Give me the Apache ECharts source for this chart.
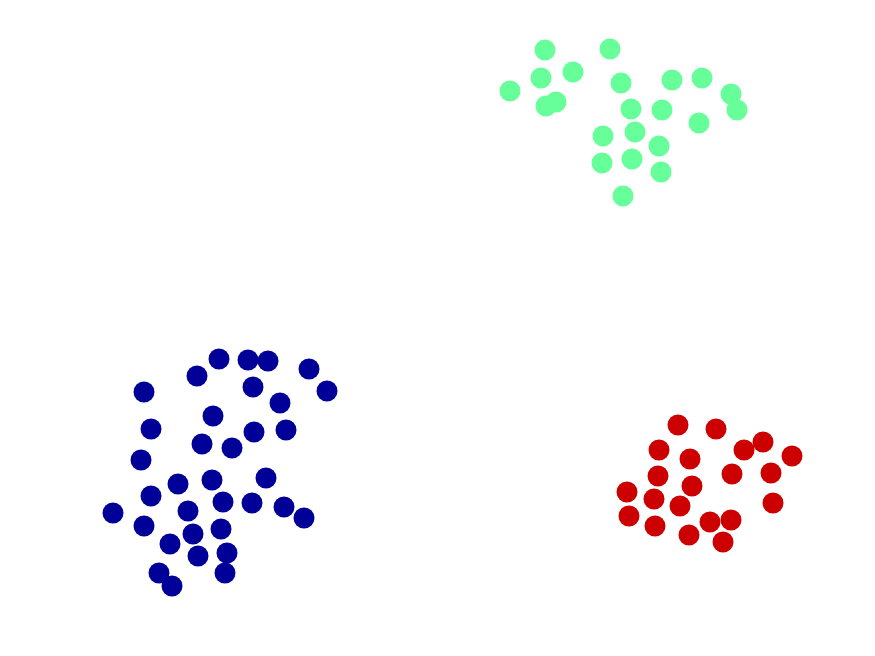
<!DOCTYPE html>
<html>
<head>
<meta charset="utf-8">
<script src="https://cdn.jsdelivr.net/npm/echarts@6/dist/echarts.min.js"></script>
<style>
    html, body { margin: 0; padding: 0; background: #fff; }
    #chart { width: 875px; height: 656px; }
</style>
</head>
<body>
<div id="chart"></div>
<script>
// 三个簇的点坐标 (x, y)，y 向下增大
const greenX = [545, 610, 541, 573, 510, 621, 672, 702, 731, 737, 546, 556, 631, 662, 699, 603, 635, 659, 602, 632, 661, 623];
const greenY = [50, 49, 78, 72, 91, 83, 80, 78, 94, 110, 106, 102, 109, 110, 123, 136, 132, 146, 163, 159, 172, 196];

const blueX = [219, 248, 268, 197, 309, 144, 253, 327, 280, 213, 151, 254, 286, 202, 232, 141,
    266, 178, 212, 151, 223, 252, 284, 113, 188, 304, 144, 193, 221, 170, 227, 198, 159, 225, 172];
const blueY = [359, 360, 361, 376, 369, 392, 387, 391, 403, 416, 429, 432, 430, 444, 448, 460,
    478, 484, 480, 496, 502, 503, 507, 513, 511, 518, 526, 534, 529, 544, 553, 556, 573, 573, 586];

const redX = [678, 716, 659, 744, 763, 690, 792, 658, 732, 771, 692, 627, 654, 680, 773, 629, 655, 710, 731, 689, 723];
const redY = [425, 429, 450, 450, 442, 459, 456, 476, 474, 473, 486, 492, 499, 506, 503, 516, 526, 522, 520, 535, 542];

function pairs(xs, ys) {
    return xs.map((x, i) => [x, ys[i]]);
}

const chart = echarts.init(document.getElementById('chart'));
chart.setOption({
    animation: false,
    grid: { left: 0, right: 0, top: 0, bottom: 0 },
    xAxis: { type: 'value', min: 0, max: 875, show: false },
    yAxis: { type: 'value', min: 0, max: 656, inverse: true, show: false },
    series: [{
        type: 'scatter',
        symbolSize: 21,
        data: pairs(blueX, blueY),
        itemStyle: { color: '#000099', opacity: 1 }
    }, {
        type: 'scatter',
        symbolSize: 21,
        data: pairs(greenX, greenY),
        itemStyle: { color: '#66ff99', opacity: 1 }
    }, {
        type: 'scatter',
        symbolSize: 21,
        data: pairs(redX, redY),
        itemStyle: { color: '#cc0000', opacity: 1 }
    }]
});
</script>
</body>
</html>
